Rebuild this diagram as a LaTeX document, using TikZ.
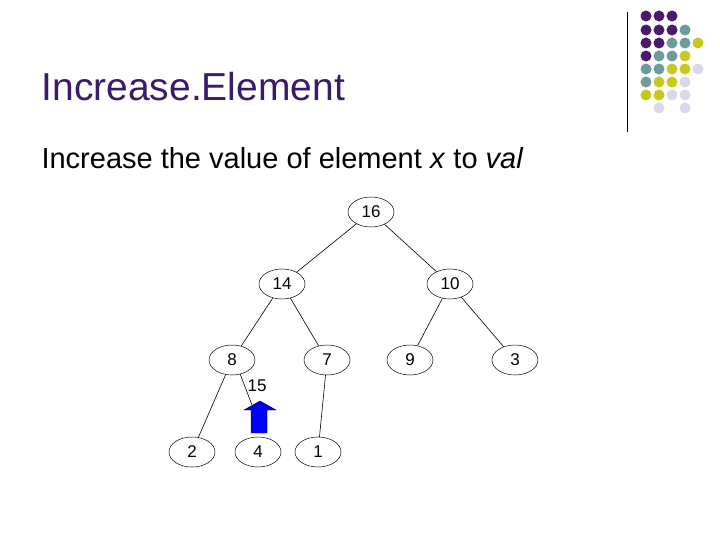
\documentclass[tikz,border=0pt]{standalone}
\usepackage{fontspec}
\setmainfont{Liberation Sans}
\usetikzlibrary{shapes.geometric}
\definecolor{cP}{HTML}{4A1A6E}
\definecolor{cT}{HTML}{6E9C9C}
\definecolor{cY}{HTML}{C8C81E}
\definecolor{cL}{HTML}{D8D8E8}
\definecolor{ttl}{HTML}{3A1A6A}
\begin{document}
\begin{tikzpicture}[x=1pt,y=-1pt,
  hn/.style={ellipse,draw,line width=0.5pt,minimum width=46pt,minimum height=30pt,inner sep=0pt,font=\fontsize{17}{17}\selectfont},
  ed/.style={line width=0.6pt}]
\useasboundingbox (0,0) rectangle (720,540);
% logo
\draw[line width=0.8pt] (627,12) -- (627,132);
\foreach \r/\row in {16/{P,P,P},30/{P,P,P,T},43/{P,P,T,T,Y},56/{P,T,T,Y},69/{T,T,Y,Y,L},82/{T,Y,Y,L},95/{Y,Y,L,L}}{
  \foreach \c [count=\i] in \row {
    \fill[c\c] ({633+13*\i},\r) circle (5.5);
  }
}
\fill[cL] (659,108) circle (5.5);
\fill[cL] (685,108) circle (5.5);
% text
\node[anchor=west,text=ttl,font=\fontsize{39}{39}\selectfont] (title) at (38,87) {Increase.Element};
\node[anchor=west,font=\fontsize{29}{29}\selectfont] (sub) at (38,158) {Increase the value of element \textit{x} to \textit{val}};
% tree
\node[hn] (n16) at (371,212) {16};
\node[hn] (n14) at (282,284) {14};
\node[hn] (n10) at (450,284) {10};
\node[hn] (n8) at (232,360) {8};
\node[hn] (n7) at (327,360) {7};
\node[hn] (n9) at (410,360) {9};
\node[hn] (n3) at (515,360) {3};
\node[hn] (n2) at (192,452) {2};
\node[hn] (n4) at (258,452) {4};
\node[hn] (n1) at (318,452) {1};
\draw[fill=blue,line width=0.4pt] (251,433) -- (251,410) -- (244,410) -- (260,401) -- (276,410) -- (267,410) -- (267,433) -- cycle;
\coordinate (top) at (252,405);
\node[font=\fontsize{17}{17}\selectfont] (v15) at (257,386) {15};
\draw[ed] (n16)--(n14); \draw[ed] (n16)--(n10);
\draw[ed] (n14)--(n8); \draw[ed] (n14)--(n7);
\draw[ed] (n10)--(n9); \draw[ed] (n10)--(n3);
\draw[ed] (n8)--(n2); \draw[ed] (n8.-60)--(top);
\draw[ed] (n7)--(n1);
\end{tikzpicture}
\end{document}
